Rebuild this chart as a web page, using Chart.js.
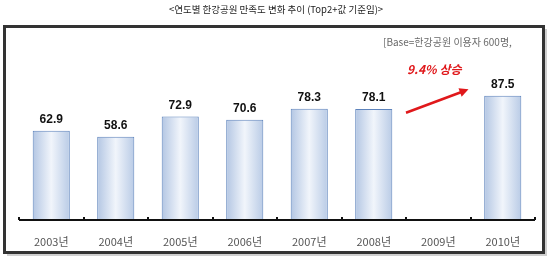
<!DOCTYPE html>
<html><head><meta charset="utf-8">
<script src="https://cdn.jsdelivr.net/npm/chart.js@4/dist/chart.umd.min.js"></script>
<style>html,body{margin:0;padding:0;background:#fff}#wrap{width:550px;height:260px;position:relative}</style>
</head><body><div id="wrap"><canvas id="c" width="550" height="260"></canvas></div>
<script>
const categories = ['2003년','2004년','2005년','2006년','2007년','2008년','2009년','2010년'];
const satisfaction = [62.9, 58.6, 72.9, 70.6, 78.3, 78.1, null, 87.5];
const chartTitle = '<연도별 한강공원 만족도 변화 추이 (Top2+값 기준임)>';
const baseNote = '[Base=한강공원 이용자 600명,';
const riseNote = '9.4% 상승';

const KR = '"Noto Sans CJK KR", "Noto Sans", sans-serif';
const BAR_PCT = 0.575;

function barFill(ctx){
  const chart = ctx.chart;
  const xs = chart.scales && chart.scales.x;
  if (!chart.chartArea || !xs || ctx.dataIndex == null) return '#d3dfef';
  const cx = xs.getPixelForValue(ctx.dataIndex);
  const w = (xs.getPixelForValue(1) - xs.getPixelForValue(0)) * BAR_PCT;
  if (!isFinite(cx) || !isFinite(w)) return '#d3dfef';
  const g = chart.ctx.createLinearGradient(cx - w/2, 0, cx + w/2, 0);
  g.addColorStop(0, '#b3c6e3');
  g.addColorStop(0.5, '#f1f5fb');
  g.addColorStop(1, '#b9cbe6');
  return g;
}

const decor = {
  id: 'decor',
  beforeDraw(chart){
    const c = chart.ctx;
    c.save();
    c.fillStyle = '#fff';
    c.fillRect(0,0,chart.width,chart.height);
    c.fillStyle = '#222';
    c.font = '9.5px ' + KR;
    c.textAlign = 'center'; c.textBaseline = 'middle';
    c.fillText(chartTitle, 276, 9);
    c.fillStyle = '#cfcfcf';
    c.fillRect(545, 29, 2, 227);
    c.fillRect(7, 254, 540, 2);
    c.fillStyle = '#333';
    c.fillRect(3, 25, 542, 3);
    c.fillRect(3, 251, 542, 3);
    c.fillRect(3, 25, 3, 229);
    c.fillRect(542, 25, 3, 229);
    c.restore();
  },
  afterDatasetsDraw(chart){
    const c = chart.ctx;
    const xs = chart.scales.x, ys = chart.scales.y;
    const meta = chart.getDatasetMeta(0);
    const area = chart.chartArea;
    c.save();
    const step = xs.getPixelForValue(1) - xs.getPixelForValue(0);
    const yb = ys.getPixelForValue(0);
    c.fillStyle = '#111';
    c.fillRect(area.left, yb - 1, area.right - area.left, 2);
    for (let i = 0; i <= categories.length; i++) {
      const x = Math.round(xs.getPixelForValue(0) - step/2 + i*step);
      c.fillRect(x - 1, yb - 3, 2, 3);
    }
    c.fillStyle = '#111';
    c.font = 'bold 12px "Liberation Sans", Arial, sans-serif';
    c.textAlign = 'center'; c.textBaseline = 'middle';
    meta.data.forEach((b, i) => {
      const v = satisfaction[i];
      if (v == null) return;
      c.fillText(v.toFixed(1), b.x, b.y - 11);
    });
    c.fillStyle = '#6a6a6a';
    c.font = '10px ' + KR;
    c.textAlign = 'left';
    c.fillText(baseNote, 383, 42);
    const cx = xs.getPixelForValue(6);
    const half = step / 2;
    c.fillStyle = '#e0181b';
    c.font = 'italic bold 12px ' + KR;
    c.textAlign = 'center';
    c.fillText(riseNote, cx - 4, ys.getPixelForValue(106));
    const x0 = cx - half, y0 = ys.getPixelForValue(75.5);
    const x1 = cx + half - 2, y1 = ys.getPixelForValue(92);
    c.strokeStyle = '#e0181b'; c.lineWidth = 2.5;
    const ang = Math.atan2(y1 - y0, x1 - x0);
    c.beginPath(); c.moveTo(x0, y0);
    c.lineTo(x1 - 6*Math.cos(ang), y1 - 6*Math.sin(ang)); c.stroke();
    c.beginPath();
    c.moveTo(x1, y1);
    c.lineTo(x1 - 9*Math.cos(ang) + 4.5*Math.sin(ang), y1 - 9*Math.sin(ang) - 4.5*Math.cos(ang));
    c.lineTo(x1 - 9*Math.cos(ang) - 4.5*Math.sin(ang), y1 - 9*Math.sin(ang) + 4.5*Math.cos(ang));
    c.closePath(); c.fill();
    c.restore();
  }
};

new Chart(document.getElementById('c'), {
  type: 'bar',
  data: {
    labels: categories,
    datasets: [{
      data: satisfaction,
      backgroundColor: barFill,
      borderColor: '#5d83bc',
      borderWidth: 1,
      barPercentage: BAR_PCT,
      categoryPercentage: 1.0
    }]
  },
  options: {
    responsive: false,
    animation: false,
    events: [],
    layout: { padding: { top: 78, left: 19, right: 15, bottom: 0 } },
    plugins: { legend: { display: false }, tooltip: { enabled: false } },
    scales: {
      y: { display: false, min: 0, max: 100 },
      x: {
        offset: true,
        afterFit(s){ s.height = 40; },
        border: { display: false },
        grid: { display: false },
        ticks: { color: '#555', padding: 7, font: { family: KR, size: 11 } }
      }
    }
  },
  plugins: [decor]
});
</script></body></html>
